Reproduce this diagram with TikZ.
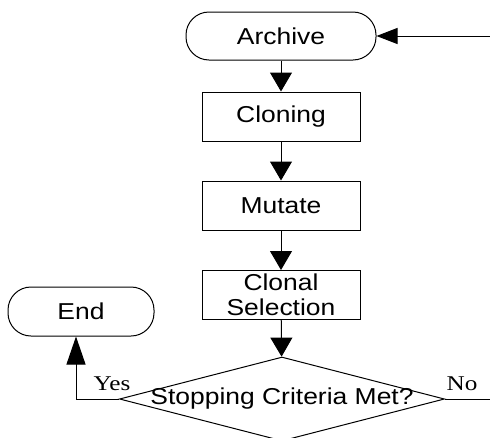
\documentclass[tikz,border=0pt]{standalone}
\usepackage{fontspec}
\setmainfont{Liberation Sans}[FakeStretch=1.15]
\newfontfamily\yesnofont{Liberation Serif}[FakeStretch=1.2]
\usetikzlibrary{arrows.meta,shapes.geometric}

\tikzset{
  terminal/.style={draw, rounded corners=23pt, minimum width=190pt, minimum height=48pt, line width=1pt},
  process/.style={draw, minimum width=158pt, minimum height=49pt, align=center, line width=1pt},
  decision/.style={draw, diamond, minimum width=325pt, minimum height=84pt, inner sep=0pt, line width=1pt},
  flow/.style={line width=1pt, -{Triangle[length=19pt,width=22pt]}},
  answer/.style={font=\yesnofont\fontsize{21}{25}\selectfont, anchor=base, inner sep=0pt},
}

\begin{document}
\begin{tikzpicture}[x=1pt, y=-1pt, font=\fontsize{23}{25}\selectfont]
    \useasboundingbox (0,0) rectangle (490,437);

    % main column
    \node[terminal] (archive) at (281,36) {Archive};
    \node[process] (cloning) at (281,116.5) {Cloning};
    \node[process] (mutate) at (281,205.5) {Mutate};
    \node[process] (clonal) at (281,295) {Clonal\\Selection};
    \node[decision] (stop) at (282,399) {\makebox[0pt]{Stopping Criteria Met?}};
    \node[terminal, minimum width=146pt, minimum height=49pt] (end) at (81,311.5) {End};

    \coordinate (loopin) at (490,36);
    \coordinate (noout) at (490,399);
    \coordinate (yesturn) at (76,399);

    \draw[flow] (archive) -- (cloning);
    \draw[flow] (cloning) -- (mutate);
    \draw[flow] (mutate) -- (clonal);
    \draw[flow] (clonal) -- (stop);
    \draw[line width=1pt, -{Triangle[length=21pt,width=16pt]}] (loopin) -- (archive);
    \draw[line width=1pt] (stop.east) -- (noout);
    \draw[line width=1pt, -{Triangle[length=28pt,width=19pt]}] (stop.west) -- (yesturn) -- (yesturn |- end.south);

    \node[answer] (yes) at (112,390) {Yes};
    \node[answer] (no) at (462,390) {No};
\end{tikzpicture}
\end{document}
